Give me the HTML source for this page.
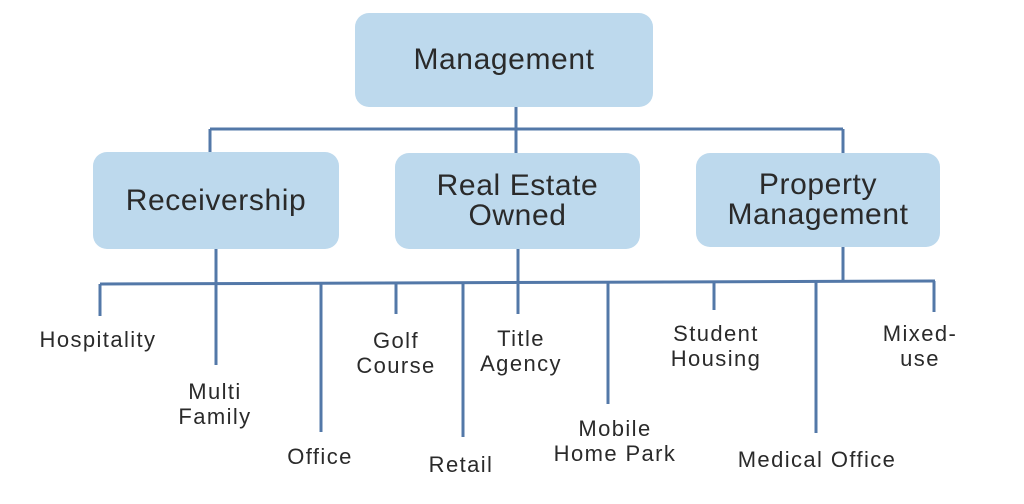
<!DOCTYPE html>
<html><head><style>
body{margin:0;background:#fff;width:1024px;height:504px;overflow:hidden;position:relative;font-family:"Liberation Sans",sans-serif;color:#2a2a2a}
.b{position:absolute;background:#bdd9ed;border-radius:14px;display:flex;align-items:center;justify-content:center;text-align:center;font-size:30px;line-height:30px;letter-spacing:0.6px}
.t{position:absolute;font-size:22px;line-height:25px;text-align:center;transform:translateX(-50%);white-space:nowrap;letter-spacing:1.4px}
svg{position:absolute;left:0;top:0}
</style></head><body>
<svg width="1024" height="504">
<g stroke="#5378a8" stroke-width="3" fill="none">
<path d="M516 107V153M210 129H843M210 129V152M843 129V153"/>
<path d="M100 284L935 281M216 249V365M518 249V314M843 247V281"/>
<path d="M100 284V316M321 283V432M396 283V314M463 283V437M608 282V404M714 282V310M816 282V433M934 281V312"/>
</g></svg>
<div class="b" style="left:355px;top:13px;width:298px;height:94px">Management</div>
<div class="b" style="left:93px;top:152px;width:246px;height:97px">Receivership</div>
<div class="b" style="left:395px;top:153px;width:245px;height:96px">Real Estate<br>Owned</div>
<div class="b" style="left:696px;top:153px;width:244px;height:94px">Property<br>Management</div>
<div class="t" style="left:98px;top:327px">Hospitality</div>
<div class="t" style="left:215px;top:379px">Multi<br>Family</div>
<div class="t" style="left:320px;top:444px">Office</div>
<div class="t" style="left:396px;top:328px">Golf<br>Course</div>
<div class="t" style="left:461px;top:452px">Retail</div>
<div class="t" style="left:521px;top:326px">Title<br>Agency</div>
<div class="t" style="left:615px;top:416px">Mobile<br>Home Park</div>
<div class="t" style="left:716px;top:321px">Student<br>Housing</div>
<div class="t" style="left:817px;top:447px">Medical Office</div>
<div class="t" style="left:920px;top:321px">Mixed-<br>use</div>
</body></html>
